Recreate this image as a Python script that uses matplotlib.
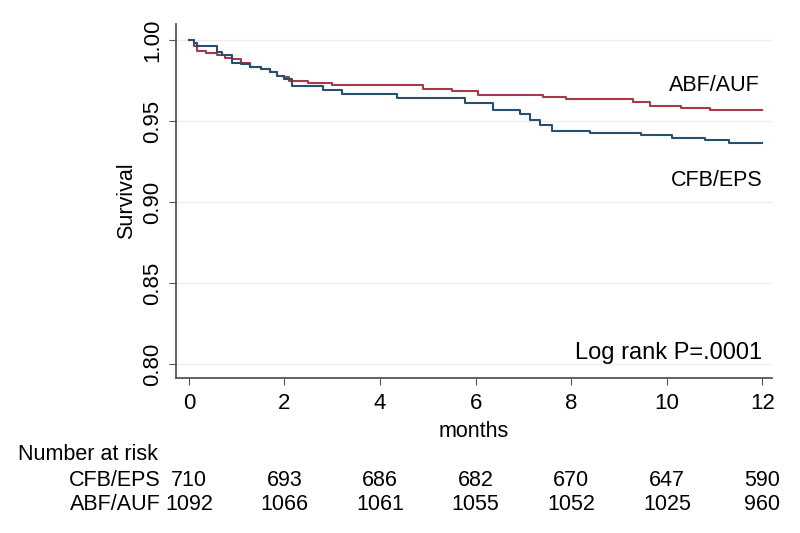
import numpy as np
import matplotlib
matplotlib.use("Agg")
import matplotlib.pyplot as plt
import matplotlib.transforms as mtransforms

plt.rcParams['font.family'] = ['Liberation Sans', 'DejaVu Sans']

# Kaplan-Meier step data
abf_t = [0, 0.1, 0.17, 0.35, 0.58, 0.75, 0.9, 1.1, 1.28, 1.5, 1.7, 1.84, 2.0, 2.1,
         2.5, 3.0, 4.9, 5.5, 6.05, 7.4, 7.9, 9.3, 9.65, 10.3, 10.9, 12.0]
abf_s = [1.0, 0.996, 0.993, 0.992, 0.9907, 0.989, 0.988, 0.986, 0.9835, 0.982, 0.980,
         0.978, 0.977, 0.975, 0.9735, 0.9724, 0.970, 0.9687, 0.966, 0.965, 0.9638,
         0.962, 0.959, 0.958, 0.957, 0.957]

cfb_t = [0, 0.1, 0.17, 0.58, 0.7, 0.9, 1.1, 1.28, 1.5, 1.7, 1.84, 2.0, 2.15, 2.8, 3.2,
         4.35, 5.77, 6.37, 6.93, 7.13, 7.34, 7.6, 8.4, 9.45, 10.1, 10.8, 11.3, 12.0]
cfb_s = [1.0, 0.998, 0.996, 0.9928, 0.991, 0.986, 0.985, 0.9835, 0.982, 0.980, 0.978,
         0.976, 0.9718, 0.969, 0.9667, 0.9642, 0.9613, 0.9568, 0.9543, 0.9506, 0.9475,
         0.944, 0.9424, 0.9412, 0.9393, 0.9383, 0.9362, 0.9362]

# Number at risk table
risk_months = [0, 2, 4, 6, 8, 10, 12]
risk_cfb = [710, 693, 686, 682, 670, 647, 590]
risk_abf = [1092, 1066, 1061, 1055, 1052, 1025, 960]

x_ticks = [0, 2, 4, 6, 8, 10, 12]
y_ticks = [0.80, 0.85, 0.90, 0.95, 1.00]

col_abf = '#a8384a'
col_cfb = '#27506e'
fs = 15.5

fig = plt.figure(figsize=(8, 5.33), dpi=100)
ax = fig.add_axes([0.22, 0.291, 0.745, 0.664])

ax.step(abf_t, abf_s, where='post', color=col_abf, lw=1.5)
ax.step(cfb_t, cfb_s, where='post', color=col_cfb, lw=1.5)

ax.set_xlim(-0.27, 12.2)
ax.set_ylim(0.7914, 1.0099)
ax.set_xticks(x_ticks)
ax.set_yticks(y_ticks)
ax.set_yticklabels([f"{v:.2f}" for v in y_ticks], rotation=90, va='center')
ax.tick_params(labelsize=16, length=5, color='#555555', direction='out')
ax.tick_params(axis='x', pad=6)
ax.tick_params(axis='y', pad=4)
ax.grid(axis='y', color='#eeeeee', lw=1)
ax.set_axisbelow(True)
for s in ['top', 'right']:
    ax.spines[s].set_visible(False)
for s in ['left', 'bottom']:
    ax.spines[s].set_color('#555555')
    ax.spines[s].set_linewidth(1.3)

ax.set_xlabel("months", fontsize=fs, labelpad=5)
ax.set_ylabel("Survival", fontsize=fs, labelpad=4)

ax.text(11.95, 0.9719, "ABF/AUF", fontsize=fs, ha='right', va='center')
ax.text(12.0, 0.913, "CFB/EPS", fontsize=fs, ha='right', va='center')
ax.text(12.0, 0.8068, "Log rank P=.0001", fontsize=17, ha='right', va='center')

# at-risk table below the plot
trans = mtransforms.blended_transform_factory(ax.transData, fig.transFigure)
fig.text(0.022, 1 - 455 / 533, "Number at risk", fontsize=fs, va='center')
fig.text(0.201, 1 - 480 / 533, "CFB/EPS", fontsize=fs, va='center', ha='right')
fig.text(0.201, 1 - 504 / 533, "ABF/AUF", fontsize=fs, va='center', ha='right')
for m, a, b in zip(risk_months, risk_cfb, risk_abf):
    ax.text(m, 1 - 480 / 533, str(a), transform=trans, fontsize=fs, ha='center', va='center')
    ax.text(m, 1 - 504 / 533, str(b), transform=trans, fontsize=fs, ha='center', va='center')

fig.savefig("out.png", dpi=100)
